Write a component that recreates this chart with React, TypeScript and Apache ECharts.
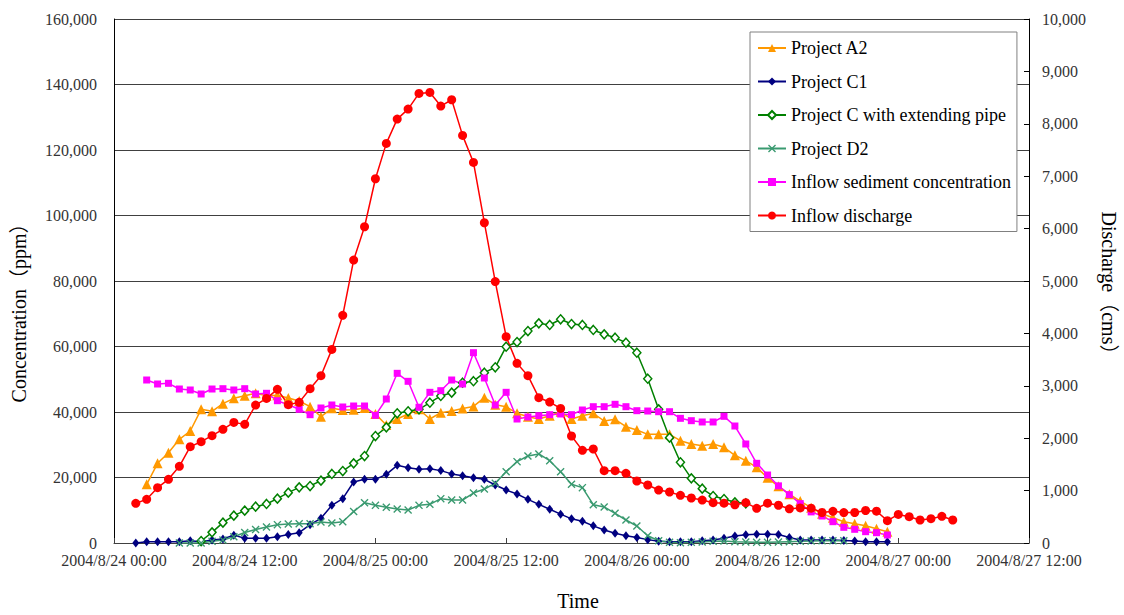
import React, { useEffect, useRef } from "react";
import * as echarts from "echarts";

// X axis: hours since 2004/8/24 00:00, ticks every 12 hours
const xTickLabels = [
  "2004/8/24 00:00",
  "2004/8/24 12:00",
  "2004/8/25 00:00",
  "2004/8/25 12:00",
  "2004/8/26 00:00",
  "2004/8/26 12:00",
  "2004/8/27 00:00",
  "2004/8/27 12:00",
];
const hoursPerTick = 12;

const xTitle = "Time";
const yLeftTitle = "Concentration（ppm）";
const yRightTitle = "Discharge（cms）";

const seriesNames = [
  "Project A2",
  "Project C1",
  "Project C with extending pipe",
  "Project D2",
  "Inflow sediment concentration",
  "Inflow discharge",
];

// Project A2 (ppm), hourly from hour 3
const a2Start = 3;
const a2 = [
  17920, 24330, 27570, 31660, 34200, 40820, 40210, 42540, 44180, 44980,
  45710, 44980, 45100, 44270, 43360, 41620, 38570, 41120, 40610, 40710,
  41220, 39390, 36030, 37860, 39390, 40820, 37860, 39790, 40300, 41060,
  41700, 44370, 42230, 41620, 39600, 38570, 37860, 38870, 40090, 37860,
  38870, 39600, 37250, 37760, 35510, 34500, 33180, 33180, 33180, 31240,
  30230, 29710, 30230, 29220, 26780, 25130, 23110, 19900, 17300, 14900,
  12800, 10800, 8950, 7700, 6510, 5900, 5250, 4330, 3460,
];

// Project C1 (ppm), hourly from hour 2
const c1Start = 2;
const c1 = [
  0, 400, 400, 400, 400, 700, 400, 900, 1200, 2400,
  1430, 1430, 1430, 1930, 2600, 3150, 5600, 7530, 11500, 13540,
  18630, 19440, 19440, 20970, 23720, 23000, 22490, 22700, 22100, 21100,
  20500, 19900, 19440, 17710, 16180, 14960, 13340, 11810, 10290, 8800,
  7380, 6660, 5240, 3970, 2950, 2240, 1680, 1030, 550, 400,
  400, 400, 700, 900, 1430, 2140, 2500, 2700, 2700, 2600,
  1680, 920, 920, 920, 920, 800, 610, 400, 400, 400,
];

// Project C with extending pipe (ppm), hourly from hour 8
const cPipeStart = 8;
const cPipe = [
  600, 3260, 6210, 8340, 9870, 11090, 11910, 13540, 15370, 17000,
  17400, 19030, 21070, 21980, 24330, 26560, 32670, 35320, 39600, 40210,
  40820, 42840, 44890, 45900, 48950, 49400, 52000, 53650, 59940, 61370,
  64730, 67080, 66570, 68310, 66870, 66570, 65040, 63720, 62690, 61160,
  58110, 50170, 40820, 32160, 24640, 19750, 16590, 14350, 13430, 12420,
  12110,
];

// Project D2 (ppm), hourly from hour 6
const d2Start = 6;
const d2 = [
  0, 0, 0, 500, 900, 1900, 3200, 4100, 4900, 5600,
  5800, 5900, 5900, 6400, 6100, 6500, 9600, 12300, 11500, 10900,
  10380, 10080, 11500, 11810, 13540, 13130, 13130, 15260, 16490, 18220,
  21780, 24840, 26560, 27180, 25130, 21780, 17920, 16900, 11700, 11000,
  9060, 7020, 5190, 2200, 700, 200, 100, 200, 300, 500,
  600, 400, 300, 200, 200, 300, 400, 500, 600, 700,
  700, 700,
];

// Inflow sediment concentration (ppm), hourly from hour 3
const sedStart = 3;
const sed = [
  49770, 48550, 48760, 47020, 46720, 45500, 47020, 47120, 46720, 47120,
  45500, 45710, 43450, 42230, 40820, 39180, 41220, 42140, 41530, 41830,
  41830, 38990, 43970, 51810, 49370, 41430, 46010, 46510, 49770, 48550,
  58110, 50380, 42140, 46010, 37860, 38470, 38870, 39180, 39390, 39180,
  40610, 41620, 41620, 42350, 41620, 40400, 40300, 40090, 40090, 38070,
  37350, 36950, 36950, 38680, 35720, 30230, 24330, 20760, 17450, 14770,
  12020, 9500, 8240, 6510, 4790, 4180, 3460, 3150, 2440,
];

// Inflow discharge (cms), hourly from hour 2
const qStart = 2;
const discharge = [
  757, 834, 1056, 1215, 1463, 1838, 1933, 2048, 2169, 2302,
  2264, 2633, 2760, 2932, 2639, 2684, 2945, 3193, 3695, 4344,
  5400, 6035, 6951, 7626, 8090, 8281, 8580, 8599, 8338, 8459,
  7779, 7263, 6112, 4990, 3937, 3428, 3193, 2773, 2690, 2569,
  2042, 1768, 1794, 1380, 1380, 1329, 1183, 1107, 1011, 973,
  909, 859, 820, 769, 760, 730, 769, 662, 760, 720,
  652, 670, 665, 582, 605, 580, 582, 620, 607, 426,
  545, 502, 439, 464, 509, 439,
];

const serif = "'Liberation Serif', 'Times New Roman', serif";
const serifCJK = "'Liberation Serif', 'Noto Sans CJK TC', serif";
const xMark =
  "path://M0,1.2L1.2,0L5,3.8L8.8,0L10,1.2L6.2,5L10,8.8L8.8,10L5,6.2L1.2,10L0,8.8L3.8,5Z";

function toPoints(start: number, values: number[]) {
  return values.map((v, i) => [start + i, v]);
}

export default function App() {
  const ref = useRef<HTMLDivElement>(null);

  useEffect(() => {
    document.body.style.margin = "0";
    if (!ref.current) return;
    const chart = echarts.init(ref.current, undefined, { renderer: "svg" });
    const lineBase = { type: "line", animation: false };
    chart.setOption({
      animation: false,
      backgroundColor: "#ffffff",
      grid: { left: 114, right: 95, top: 19, bottom: 72, containLabel: false },
      graphic: [
        {
          type: "text",
          x: 578,
          y: 601,
          style: {
            text: xTitle,
            font: `20px ${serif}`,
            fill: "#000",
            textAlign: "center",
            textVerticalAlign: "middle",
          },
        },
        {
          type: "text",
          x: 19,
          y: 308,
          rotation: Math.PI / 2,
          style: {
            text: yLeftTitle,
            font: `20px ${serifCJK}`,
            fill: "#000",
            textAlign: "center",
            textVerticalAlign: "middle",
          },
        },
        {
          type: "text",
          x: 1109,
          y: 288,
          rotation: -Math.PI / 2,
          style: {
            text: yRightTitle,
            font: `20px ${serifCJK}`,
            fill: "#000",
            textAlign: "center",
            textVerticalAlign: "middle",
          },
        },
      ],
      legend: {
        orient: "vertical",
        left: 750,
        top: 32,
        data: seriesNames,
        itemWidth: 28,
        itemHeight: 10,
        itemGap: 13.5,
        padding: [6, 6, 6, 7],
        borderColor: "#808080",
        borderWidth: 1,
        backgroundColor: "#ffffff",
        textStyle: { fontFamily: serif, fontSize: 18, color: "#000", lineHeight: 20 },
      },
      xAxis: {
        type: "value",
        min: 0,
        max: (xTickLabels.length - 1) * hoursPerTick,
        interval: hoursPerTick,
        axisLine: { lineStyle: { color: "#404040", width: 1 } },
        axisTick: { show: true, inside: true, length: 5, lineStyle: { color: "#404040" } },
        splitLine: { show: false },
        axisLabel: {
          margin: 9,
          fontFamily: serif,
          fontSize: 16,
          color: "#333",
          formatter: (v: number) => xTickLabels[Math.round(v / hoursPerTick)] ?? "",
        },
      },
      yAxis: [
        {
          type: "value",
          min: 0,
          max: 160000,
          interval: 20000,
          axisLine: { show: true, lineStyle: { color: "#000", width: 1 } },
          axisTick: { show: false },
          splitLine: { show: true, lineStyle: { color: "#404040", width: 1 } },
          axisLabel: {
            margin: 17,
            fontFamily: serif,
            fontSize: 16,
            color: "#333",
            formatter: (v: number) => v.toLocaleString("en-US"),
          },
        },
        {
          type: "value",
          min: 0,
          max: 10000,
          interval: 1000,
          axisLine: { show: true, lineStyle: { color: "#000", width: 1 } },
          axisTick: { show: true, inside: true, length: 5, lineStyle: { color: "#000" } },
          splitLine: { show: false },
          axisLabel: {
            margin: 13,
            fontFamily: serif,
            fontSize: 16,
            color: "#333",
            formatter: (v: number) => v.toLocaleString("en-US"),
          },
        },
      ],
      series: [
        {
          ...lineBase,
          name: seriesNames[0],
          data: toPoints(a2Start, a2),
          symbol: "triangle",
          symbolSize: 10,
          itemStyle: { color: "#FF9900" },
          lineStyle: { width: 1.5, color: "#FF9900" },
        },
        {
          ...lineBase,
          name: seriesNames[1],
          data: toPoints(c1Start, c1),
          symbol: "diamond",
          symbolSize: [7, 9],
          itemStyle: { color: "#000080" },
          lineStyle: { width: 1.5, color: "#000080" },
        },
        {
          ...lineBase,
          name: seriesNames[2],
          data: toPoints(cPipeStart, cPipe),
          symbol: "diamond",
          symbolSize: [8, 9],
          itemStyle: { color: "#ffffff", borderColor: "#008000", borderWidth: 1.5 },
          lineStyle: { width: 1.5, color: "#008000" },
        },
        {
          ...lineBase,
          name: seriesNames[3],
          data: toPoints(d2Start, d2),
          symbol: xMark,
          symbolSize: 8,
          itemStyle: { color: "#3A9A70" },
          lineStyle: { width: 1.5, color: "#3A9A70" },
        },
        {
          ...lineBase,
          name: seriesNames[4],
          data: toPoints(sedStart, sed),
          symbol: "rect",
          symbolSize: 7,
          itemStyle: { color: "#FF00FF" },
          lineStyle: { width: 1.5, color: "#FF00FF" },
        },
        {
          ...lineBase,
          name: seriesNames[5],
          yAxisIndex: 1,
          data: toPoints(qStart, discharge),
          symbol: "circle",
          symbolSize: 9,
          itemStyle: { color: "#FF0000" },
          lineStyle: { width: 1.5, color: "#FF0000" },
        },
      ],
    });
    return () => chart.dispose();
  }, []);

  return <div ref={ref} style={{ width: 1124, height: 615 }} />;
}
